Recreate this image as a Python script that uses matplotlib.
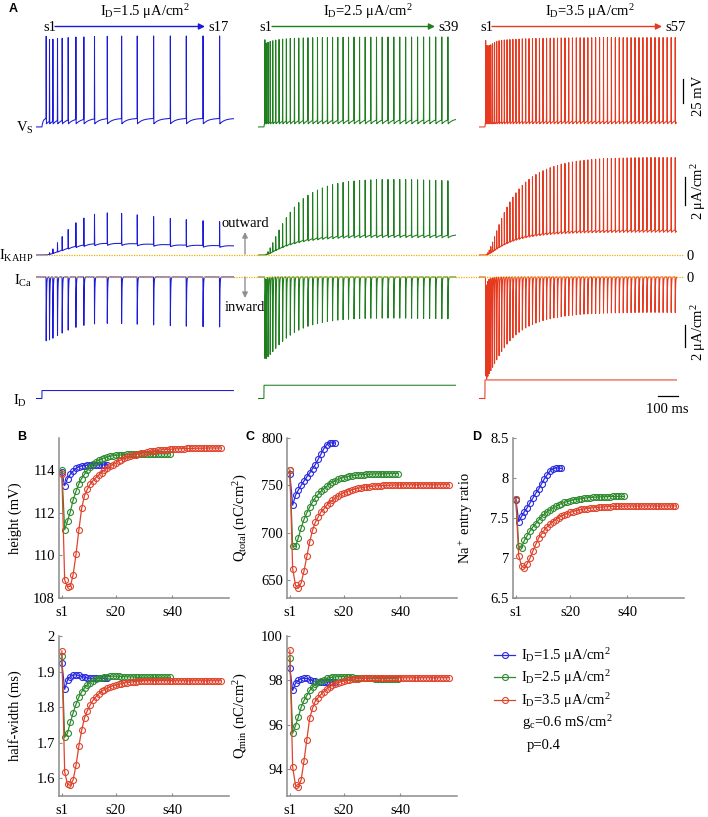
import numpy as np
import matplotlib
matplotlib.use("Agg")
import matplotlib.pyplot as plt
from matplotlib.ticker import FuncFormatter

plt.rcParams['font.family'] = ['Liberation Serif', 'DejaVu Serif']
plt.rcParams['mathtext.fontset'] = 'custom'
plt.rcParams['mathtext.rm'] = 'Liberation Serif'
plt.rcParams['mathtext.it'] = 'Liberation Serif:italic'
plt.rcParams['mathtext.bf'] = 'Liberation Serif:bold'

# ---------------- data ----------------
currents = [1.5, 2.5, 3.5]                      # I_D (uA/cm2)
labels_ID = ['s17', 's39', 's57']

# spike times (ms) for I_D = 1.5
spk_1 = [21.8, 38.6, 55.8, 79.2, 103.0, 133.5, 172.6, 213.0, 267.0, 332.0,
         404.6, 484.0, 567.0, 652.0, 733.0, 818.0, 902.0]
# first spike (ms) and inter-spike intervals (ms) for I_D = 2.5 and 3.5
t1_2 = 5.0
isi_2 = [7, 9, 11, 13, 15, 17, 18, 19, 20, 21,
         22, 23, 23.5, 24, 24.5, 25, 25.5, 26, 26.5, 27,
         27.5, 28, 28, 28.5, 28.5, 29, 29, 29.5, 29.5, 30,
         30, 30, 30.5, 30.5, 30.5, 31, 31, 31]
t1_3 = 4.0
isi_3 = [5, 6, 7, 8, 9, 10, 11, 12, 13, 13.5,
         14, 14.5, 15, 15.5, 16, 16.5, 17, 17, 17.5, 17.5,
         18, 18, 18, 18.5, 18.5, 18.5, 19, 19, 19, 19,
         19.5, 19.5, 19.5, 19.5, 19.5, 20, 20, 20, 20, 20,
         20, 20, 20, 20, 20, 20, 20, 20, 20.5, 20.5,
         20.5, 20.5, 20.5, 20.5, 20.5, 20.5]

# spike height (mV)
h_blue = [113.90, 113.27, 113.60, 113.80, 113.95, 114.08, 114.15, 114.19, 114.21, 114.22,
          114.23, 114.23, 114.23, 114.24, 114.24, 114.24, 114.25]
h_green = [114.00, 111.20, 111.60, 112.05, 112.60, 113.00, 113.35, 113.60, 113.80, 114.00,
           114.15, 114.28, 114.38, 114.46, 114.52, 114.57, 114.61, 114.64, 114.67, 114.69,
           114.70, 114.71, 114.72, 114.73, 114.73, 114.74, 114.74, 114.75, 114.75, 114.75,
           114.75, 114.75, 114.76, 114.76, 114.76, 114.76, 114.76, 114.76, 114.76]
h_red = [113.80, 108.85, 108.52, 108.55, 109.10, 110.05, 111.17, 112.20, 112.80, 113.10,
         113.33, 113.50, 113.64, 113.77, 113.88, 114.00, 114.10, 114.18, 114.25, 114.32,
         114.42, 114.48, 114.54, 114.59, 114.64, 114.68, 114.72, 114.76, 114.79, 114.82,
         114.85, 114.87, 114.89, 114.91, 114.92, 114.94, 114.95, 114.96, 114.97, 114.98,
         114.99, 114.99, 115.00, 115.00, 115.01, 115.01, 115.01, 115.02, 115.02, 115.02,
         115.02, 115.03, 115.03, 115.03, 115.03, 115.03, 115.03]

# half-width (ms)
hw_blue = [1.925, 1.850, 1.876, 1.886, 1.890, 1.891, 1.889, 1.886, 1.884, 1.882,
           1.881, 1.881, 1.881, 1.881, 1.881, 1.881, 1.881]
hw_green = [1.945, 1.715, 1.727, 1.757, 1.784, 1.808, 1.828, 1.843, 1.854, 1.863,
            1.869, 1.874, 1.878, 1.881, 1.883, 1.885, 1.886, 1.887, 1.887, 1.887,
            1.887, 1.886, 1.886, 1.885, 1.885, 1.885, 1.884, 1.884, 1.884, 1.884,
            1.884, 1.884, 1.884, 1.884, 1.884, 1.884, 1.884, 1.884, 1.884]
hw_red = [1.958, 1.618, 1.583, 1.580, 1.596, 1.636, 1.690, 1.735, 1.770, 1.790,
          1.806, 1.819, 1.829, 1.837, 1.844, 1.849, 1.853, 1.857, 1.860, 1.862,
          1.864, 1.866, 1.868, 1.869, 1.870, 1.871, 1.872, 1.873, 1.873, 1.874,
          1.874, 1.874, 1.874, 1.874, 1.874, 1.874, 1.874, 1.874, 1.874, 1.874,
          1.874, 1.874, 1.874, 1.874, 1.874, 1.874, 1.874, 1.874, 1.874, 1.874,
          1.874, 1.874, 1.874, 1.874, 1.874, 1.874, 1.874]

# Q_total (nC/cm2)
qt_blue = [762.0, 729.0, 739.5, 745.0, 750.0, 754.6, 759.0, 763.0, 767.6, 772.0,
           777.5, 783.0, 788.7, 793.0, 794.7, 795.0, 794.7]
qt_green = [766.0, 685.6, 685.6, 694.7, 705.0, 714.0, 721.0, 727.0, 732.4, 737.0,
            740.5, 743.7, 746.5, 749.0, 751.4, 753.2, 754.8, 756.2, 757.3, 758.2,
            759.0, 759.6, 760.1, 760.5, 760.9, 761.2, 761.4, 761.6, 761.8, 761.9,
            762.0, 762.1, 762.2, 762.2, 762.3, 762.3, 762.3, 762.4, 762.4]
qt_red = [766.0, 662.0, 644.4, 641.5, 647.0, 659.5, 675.0, 690.0, 702.5, 711.0,
          716.5, 722.0, 725.0, 729.0, 731.7, 734.0, 736.6, 738.7, 740.5, 742.0,
          743.3, 744.4, 745.3, 746.1, 746.8, 747.4, 747.9, 748.3, 748.7, 749.0,
          749.3, 749.5, 749.7, 749.9, 750.0, 750.1, 750.2, 750.3, 750.4, 750.4,
          750.5, 750.5, 750.5, 750.6, 750.6, 750.6, 750.6, 750.6, 750.6, 750.6,
          750.6, 750.6, 750.6, 750.6, 750.6, 750.6, 750.6]

# Q_min (nC/cm2)
qm_blue = [98.54, 97.55, 97.88, 98.00, 98.08, 98.10, 98.09, 98.04, 97.99, 97.96,
           97.94, 97.93, 97.93, 97.93, 97.93, 97.93, 97.93]
qm_green = [99.00, 95.62, 95.97, 96.35, 96.80, 97.10, 97.32, 97.55, 97.70, 97.82,
            97.91, 97.98, 98.04, 98.09, 98.12, 98.14, 98.16, 98.17, 98.17, 98.17,
            98.16, 98.15, 98.14, 98.13, 98.12, 98.11, 98.10, 98.10, 98.09, 98.09,
            98.08, 98.08, 98.08, 98.08, 98.08, 98.08, 98.08, 98.08, 98.08]
qm_red = [99.37, 94.10, 93.28, 93.20, 93.53, 94.38, 95.34, 96.29, 96.74, 97.08,
          97.23, 97.37, 97.50, 97.62, 97.70, 97.79, 97.85, 97.90, 97.94, 97.97,
          98.00, 98.03, 98.05, 98.07, 98.08, 98.09, 98.10, 98.11, 98.11, 98.12,
          98.12, 98.12, 98.12, 98.12, 98.12, 98.12, 98.12, 98.12, 98.12, 98.12,
          98.12, 98.12, 98.12, 98.12, 98.12, 98.12, 98.12, 98.12, 98.12, 98.12,
          98.12, 98.12, 98.12, 98.12, 98.12, 98.12, 98.12]

# Na+ entry ratio
na_blue = [7.73, 7.455, 7.52, 7.58, 7.63, 7.69, 7.75, 7.81, 7.86, 7.925,
           7.99, 8.04, 8.09, 8.115, 8.125, 8.125, 8.12]
na_green = [7.74, 7.15, 7.13, 7.22, 7.28, 7.34, 7.39, 7.43, 7.475, 7.515,
            7.55, 7.58, 7.60, 7.625, 7.645, 7.665, 7.68, 7.695, 7.705, 7.715,
            7.725, 7.73, 7.737, 7.743, 7.748, 7.752, 7.756, 7.759, 7.761, 7.763,
            7.765, 7.766, 7.767, 7.768, 7.769, 7.769, 7.77, 7.77, 7.77]
na_red = [7.74, 7.03, 6.90, 6.875, 6.93, 7.00, 7.09, 7.17, 7.25, 7.30,
          7.35, 7.39, 7.425, 7.455, 7.48, 7.505, 7.525, 7.54, 7.555, 7.57,
          7.58, 7.59, 7.60, 7.607, 7.613, 7.618, 7.623, 7.627, 7.631, 7.634,
          7.637, 7.639, 7.641, 7.643, 7.644, 7.645, 7.646, 7.647, 7.648, 7.649,
          7.65, 7.65, 7.65, 7.65, 7.65, 7.65, 7.65, 7.65, 7.65, 7.65,
          7.65, 7.65, 7.65, 7.65, 7.65, 7.65, 7.65]

for arr, n in [(h_blue, 17), (h_green, 39), (h_red, 57), (hw_blue, 17), (hw_green, 39),
               (hw_red, 57), (qt_blue, 17), (qt_green, 39), (qt_red, 57), (qm_blue, 17),
               (qm_green, 39), (qm_red, 57), (na_blue, 17), (na_green, 39), (na_red, 57),
               (spk_1, 17), (isi_2, 38), (isi_3, 56)]:
    assert len(arr) == n, (len(arr), n)

# ---------------- styling ----------------
C_TR = ['#1a1ad8', '#1f7f1f', '#e6391f']
C_PT = ['#2a2ae0', '#2e8b2e', '#e0432c']
GRAY = '#8c8c8c'
DOT = '#f0b000'

W, H = 708, 817
fig = plt.figure(figsize=(W / 100, H / 100), dpi=100)


def add_px_axes(l, t, r, b):
    ax = fig.add_axes([l / W, 1 - b / H, (r - l) / W, (b - t) / H])
    ax.patch.set_alpha(0)
    return ax


# ---------------- simple trace model from spike times ----------------
T = np.arange(-30.0, 975.0, 0.05)
V_REST, V_THR, V_AHP, TAU_R = -71.0, -62.0, -68.0, 25.0
DCA, TAU_CA, TAU_RISE, KD = 0.06, 300.0, 60.0, 1.5
GK, EK, CQ = 0.185, -95.0, 2.0
A0 = [5.8, 7.4, 9.0]


def make_traces(spk, heights, idval, a0):
    spk = np.asarray(spk, float)
    pk = np.asarray(heights) - 89.0
    on = T >= 0
    k = np.searchsorted(spk, T, side='right') - 1
    v = np.full_like(T, V_REST)
    pre = on & (k < 0)
    v[pre] = V_THR - (V_THR - V_REST) * np.exp(-T[pre] / 6.0)
    post = k >= 0
    dt = T[post] - spk[k[post]]
    v[post] = V_THR - (V_THR - V_AHP) * np.exp(-dt / TAU_R)
    ca = np.zeros_like(T)
    for tk, p in zip(spk, pk):
        d = T - tk
        v += (p - V_THR) * np.exp(-(d / 0.45) ** 2)
        m = d > 0
        ca[m] += DCA * (np.exp(-d[m] / TAU_CA) - np.exp(-d[m] / TAU_RISE))
    q = ca / (ca + KD)
    ik = GK * q * (v - EK)
    ica = np.zeros_like(T)
    qk = np.interp(spk, T, q)
    for tk, qq in zip(spk, qk):
        d = T - tk
        shape = np.where(d < 0, np.exp(-(np.minimum(d, 0) / 0.5) ** 2),
                         np.exp(-np.maximum(d, 0) / 1.5))
        ica -= a0 * max(1 - CQ * qq, 0.1) * shape
    idt = np.where(on, idval, 0.0)
    return v, ik, ica, idt


spikes = [np.asarray(spk_1), t1_2 + np.concatenate([[0], np.cumsum(isi_2)]),
          t1_3 + np.concatenate([[0], np.cumsum(isi_3)])]
heights_all = [h_blue, h_green, h_red]

col_left = [36, 258, 479]
CW = 198
for c in range(3):
    L = col_left[c]
    v, ik, ica, idt = make_traces(spikes[c], heights_all[c], currents[c], A0[c])
    axV = add_px_axes(L, 20, L + CW, 140)
    axK = add_px_axes(L, 140, L + CW, 262)
    axC = add_px_axes(L, 270, L + CW, 380)
    axI = add_px_axes(L, 370, L + CW, 405)
    for ax, y, yl in [(axV, v, (-84.6, 40.6)), (axK, ik, (-0.5, 8.214)),
                      (axC, ica, (-9.364, 0.636)), (axI, idt, (-1.226, 5.377))]:
        ax.plot(T, y, color=C_TR[c], lw=0.75, zorder=2)
        ax.set_xlim(-30, 975)
        ax.set_ylim(*yl)
        ax.axis('off')
    xend = 1097 if c < 2 else 1005
    for ax in (axK, axC):
        ax.plot([-30, xend], [0, 0], color=DOT, lw=0.9, ls=(0, (1, 1)),
                clip_on=False, zorder=3)
    if c == 2:
        axV.plot([1005, 1005], [-46, -21], color='k', lw=0.9, clip_on=False)
        axK.plot([1015, 1015], [3.57, 5.57], color='k', lw=0.9, clip_on=False)
        axC.plot([1015, 1015], [-6.36, -4.36], color='k', lw=0.9, clip_on=False)
        axI.plot([878, 978], [0.47, 0.47], color='k', lw=0.9, clip_on=False)

# ---------------- overlay text for panel A ----------------
axT = fig.add_axes([0, 0, 1, 1])
axT.set_xlim(0, W)
axT.set_ylim(H, 0)
axT.axis('off')
axT.patch.set_alpha(0)
axT.set_zorder(10)

FS = 10.5
axT.text(9, 9, 'A', family='Liberation Sans', weight='bold', fontsize=9, va='center')
axT.text(17, 437, 'B', family='Liberation Sans', weight='bold', fontsize=9, va='center')
axT.text(245, 437, 'C', family='Liberation Sans', weight='bold', fontsize=9, va='center')
axT.text(472, 437, 'D', family='Liberation Sans', weight='bold', fontsize=9, va='center')

title_x = [145, 368, 590]
s1_x = [43, 259, 480]
arr_x = [(55, 205), (272, 435), (492, 662)]
for c in range(3):
    axT.text(title_x[c], 12, r'I$_{\rm D}$=%.1f μA/cm$^2$' % currents[c], ha='center',
             va='center', fontsize=FS)
    axT.text(s1_x[c], 27, 's1', ha='left', va='center', fontsize=FS)
    axT.annotate('', xy=(arr_x[c][1], 26.5), xytext=(arr_x[c][0], 26.5),
                 arrowprops=dict(arrowstyle='-|>', color=C_TR[c], lw=1.0,
                                 mutation_scale=9, shrinkA=0, shrinkB=0))
    axT.text(arr_x[c][1] + 3, 27, labels_ID[c], ha='left', va='center', fontsize=FS)

axT.text(34, 128, r'V$_{\rm S}$', ha='right', va='center', fontsize=FS)
axT.text(33, 256, r'I$_{\rm KAHP}$', ha='right', va='center', fontsize=FS)
axT.text(32, 281, r'I$_{\rm Ca}$', ha='right', va='center', fontsize=FS)
axT.text(27, 401, r'I$_{\rm D}$', ha='right', va='center', fontsize=FS)

axT.text(245, 223, 'outward', ha='center', va='center', fontsize=FS)
axT.annotate('', xy=(245, 232), xytext=(245, 254),
             arrowprops=dict(arrowstyle='-|>', color='#909090', lw=1.0, mutation_scale=8,
                             shrinkA=0, shrinkB=0))
axT.text(245, 307, 'inward', ha='center', va='center', fontsize=FS)
axT.annotate('', xy=(245, 298), xytext=(245, 277),
             arrowprops=dict(arrowstyle='-|>', color='#909090', lw=1.0, mutation_scale=8,
                             shrinkA=0, shrinkB=0))

axT.text(690, 256, '0', ha='center', va='center', fontsize=FS)
axT.text(690, 278, '0', ha='center', va='center', fontsize=FS)
axT.text(698, 96, '25 mV', ha='center', va='center', rotation=90, fontsize=FS)
axT.text(699, 191, r'2 μA/cm$^2$', ha='center', va='center', rotation=90, fontsize=FS)
axT.text(699, 332, r'2 μA/cm$^2$', ha='center', va='center', rotation=90, fontsize=FS)
axT.text(667, 409, '100 ms', ha='center', va='center', fontsize=FS)

# ---------------- panels B, C, D ----------------
fmt = FuncFormatter(lambda val, pos: f'{val:g}')


def style(ax, ylim, yticks, ylabel, lx):
    ax.set_xlim(0, 60)
    ax.set_ylim(*ylim)
    ax.set_xticks([1, 20, 40])
    ax.set_xticklabels(['s1', 's20', 's40'])
    ax.set_yticks(yticks)
    ax.yaxis.set_major_formatter(fmt)
    for s in ['top', 'right']:
        ax.spines[s].set_visible(False)
    for s in ['left', 'bottom']:
        ax.spines[s].set_color(GRAY)
        ax.spines[s].set_linewidth(1.1)
    ax.tick_params(direction='in', length=2.5, width=0.8, color=GRAY, labelsize=FS)
    ax.tick_params(axis='y', pad=3)
    ax.tick_params(axis='x', pad=6)
    ax.set_ylabel(ylabel, fontsize=FS)
    ax.yaxis.set_label_coords(lx, 0.5)


def series(ax, arrs):
    lines = []
    for c, arr in enumerate(arrs):
        x = np.arange(1, len(arr) + 1)
        ln, = ax.plot(x, arr, color=C_PT[c], lw=0.9, marker='o', ms=4.3, mfc='none',
                      mew=0.8, clip_on=False)
        lines.append(ln)
    return lines


axB1 = add_px_axes(59, 438, 229, 598)
series(axB1, [h_blue, h_green, h_red])
style(axB1, (108, 115.5), [108, 110, 112, 114], 'height (mV)', -0.22)

axB2 = add_px_axes(59, 636, 229, 796)
series(axB2, [hw_blue, hw_green, hw_red])
style(axB2, (1.55, 2.0), [1.6, 1.7, 1.8, 1.9, 2.0], 'half-width (ms)', -0.22)

axC1 = add_px_axes(287, 438, 457, 598)
series(axC1, [qt_blue, qt_green, qt_red])
style(axC1, (631, 800), [650, 700, 750, 800], r'Q$_{\rm total}$ (nC/cm$^2$)', -0.22)

axC2 = add_px_axes(287, 636, 457, 796)
series(axC2, [qm_blue, qm_green, qm_red])
style(axC2, (92.8, 100), [94, 96, 98, 100], r'Q$_{\rm min}$ (nC/cm$^2$)', -0.22)

axD1 = add_px_axes(513, 438, 684, 598)
handles = series(axD1, [na_blue, na_green, na_red])
style(axD1, (6.5, 8.5), [6.5, 7, 7.5, 8, 8.5], r'Na$^+$ entry ratio', -0.22)

fig.legend(handles, [r'I$_{\rm D}$=%.1f μA/cm$^2$' % v for v in currents],
           loc='upper left', bbox_to_anchor=(494 / W, 1 - 646 / H), frameon=False,
           fontsize=FS, handlelength=1.45, handletextpad=0.4, labelspacing=0.25,
           borderaxespad=0, borderpad=0)
axT.text(522, 723, r'g$_{\rm c}$=0.6 mS/cm$^2$', ha='left', va='center', fontsize=FS)
axT.text(527, 746, 'p=0.4', ha='left', va='center', fontsize=FS)

fig.savefig('out.png', dpi=100)
